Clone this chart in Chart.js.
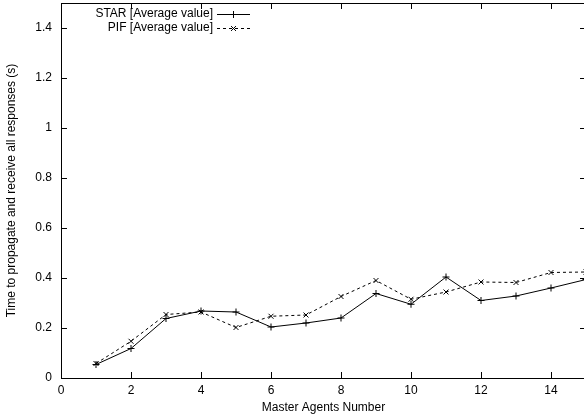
<!DOCTYPE html>
<html>
<head>
<meta charset="utf-8">
<script src="https://cdn.jsdelivr.net/npm/chart.js@4"></script>
<style>
  html, body { margin: 0; padding: 0; background: #fff; overflow: hidden; }
  #wrap { width: 586px; height: 416px; }
</style>
</head>
<body>
<div id="wrap"><canvas id="chart" width="586" height="416"></canvas></div>
<script>
// ---------------- Data ----------------
const agents = [1, 2, 3, 4, 5, 6, 7, 8, 9, 10, 11, 12, 13, 14, 15];
const starAvg = [0.054, 0.118, 0.238, 0.268, 0.264, 0.204, 0.220, 0.240, 0.338, 0.295, 0.404, 0.310, 0.328, 0.360, 0.394];
const pifAvg = [0.058, 0.147, 0.254, 0.264, 0.202, 0.247, 0.252, 0.326, 0.390, 0.315, 0.344, 0.384, 0.382, 0.422, 0.424];
const xTicks = [0, 2, 4, 6, 8, 10, 12, 14];
const yTicks = [0, 0.2, 0.4, 0.6, 0.8, 1, 1.2, 1.4];

const FONT = 'Liberation Sans, Arial, Helvetica, sans-serif';

// gnuplot style frame: inward ticks on all four sides + key in top-left
const gnuplotFrame = {
    id: 'gnuplotFrame',
    afterDraw(chart) {
        const { ctx, chartArea: a, scales: { x, y } } = chart;
        ctx.save();
        ctx.strokeStyle = '#000';
        ctx.lineWidth = 1;
        ctx.strokeRect(a.left + 0.5, a.top + 0.5, a.right - a.left - 1, a.bottom - a.top);
        ctx.beginPath();
        xTicks.forEach(v => {
            const px = Math.round(x.getPixelForValue(v)) + 0.5;
            ctx.moveTo(px, a.bottom); ctx.lineTo(px, a.bottom - 6);
            ctx.moveTo(px, a.top); ctx.lineTo(px, a.top + 6);
        });
        yTicks.forEach(v => {
            const py = Math.round(y.getPixelForValue(v)) + 0.5;
            ctx.moveTo(a.left, py); ctx.lineTo(a.left + 6, py);
            ctx.moveTo(a.right, py); ctx.lineTo(a.right - 6, py);
        });
        ctx.stroke();

        // key
        ctx.font = '12px ' + FONT;
        ctx.fillStyle = '#000';
        ctx.textAlign = 'right';
        ctx.textBaseline = 'middle';
        const rows = [
            { text: 'STAR [Average value]', dash: [], style: 'cross', yy: 14 },
            { text: 'PIF [Average value]', dash: [3, 3], style: 'crossRot', yy: 28 }
        ];
        rows.forEach(r => {
            ctx.fillText(r.text, 213, r.yy);
            ctx.setLineDash(r.dash);
            ctx.beginPath();
            ctx.moveTo(217, r.yy + 0.5); ctx.lineTo(250, r.yy + 0.5);
            ctx.stroke();
            ctx.setLineDash([]);
            Chart.helpers.drawPoint(ctx, { pointStyle: r.style, radius: 3.5, borderWidth: 1 }, 233.5, r.yy + 0.5);
        });
        ctx.restore();
    }
};

const ctx = document.getElementById('chart').getContext('2d');
new Chart(ctx, {
    type: 'line',
    data: {
        datasets: [
            {
                label: 'STAR [Average value]',
                data: agents.map((a, i) => ({ x: a, y: starAvg[i] })),
                borderColor: '#000', backgroundColor: '#000', borderWidth: 1,
                pointStyle: 'cross', pointRadius: 3.5, pointBorderWidth: 1,
                fill: false, tension: 0
            },
            {
                label: 'PIF [Average value]',
                data: agents.map((a, i) => ({ x: a, y: pifAvg[i] })),
                borderColor: '#000', backgroundColor: '#000', borderWidth: 1,
                borderDash: [3, 3],
                pointStyle: 'crossRot', pointRadius: 3.5, pointBorderWidth: 1,
                fill: false, tension: 0
            }
        ]
    },
    options: {
        responsive: false,
        animation: false,
        layout: { autoPadding: false, padding: { top: 3, right: 0, left: 0, bottom: 0 } },
        plugins: { legend: { display: false }, tooltip: { enabled: false } },
        scales: {
            x: {
                type: 'linear', min: 0, max: 15,
                afterBuildTicks: s => { s.ticks = xTicks.map(v => ({ value: v })); },
                afterFit: s => { s.height = 38; s.paddingLeft = 0; s.paddingRight = 0; },
                grid: { display: false, drawTicks: false, tickLength: 0 },
                border: { display: true, color: '#000' },
                ticks: { color: '#000', padding: 5, maxRotation: 0, callback: v => String(v), font: { family: FONT, size: 12 } },
                title: { display: true, text: 'Master Agents Number', color: '#000', padding: { top: 0, bottom: 1 }, font: { family: FONT, size: 12 } }
            },
            y: {
                min: 0, max: 1.5,
                afterBuildTicks: s => { s.ticks = yTicks.map(v => ({ value: v })); },
                afterFit: s => { s.width = 61; s.paddingTop = 0; s.paddingBottom = 0; },
                grid: { display: false, drawTicks: false, tickLength: 0 },
                border: { display: true, color: '#000' },
                ticks: { color: '#000', padding: 9, callback: v => String(v), font: { family: FONT, size: 12 } },
                title: { display: true, text: 'Time to propagate and receive all responses (s)', color: '#000', padding: { top: 4, bottom: 0 }, font: { family: FONT, size: 12 } }
            }
        }
    },
    plugins: [gnuplotFrame]
});
</script>
</body>
</html>
